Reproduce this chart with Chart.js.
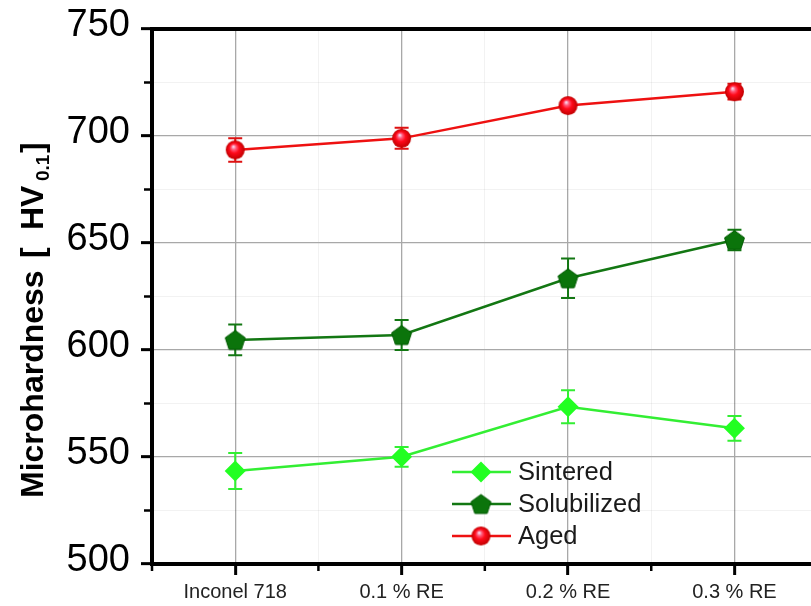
<!DOCTYPE html>
<html><head><meta charset="utf-8">
<script src="https://cdn.jsdelivr.net/npm/chart.js@4.4.1/dist/chart.umd.min.js"></script>
<style>html,body{margin:0;padding:0;background:#fff;overflow:hidden}</style>
</head><body>
<canvas id="c" width="811" height="606"></canvas>
<script>
// ---------- data ----------
const categories = ['Inconel 718', '0.1 % RE', '0.2 % RE', '0.3 % RE'];
const seriesNames = ['Sintered', 'Solubilized', 'Aged'];
const sintered = [543.5, 550.1, 573.5, 563.4];
const sinteredErr = [8.4, 4.6, 7.7, 5.8];
const solubilized = [604.7, 607.0, 633.5, 651.4];
const solubilizedErr = [7.2, 7.0, 9.2, 4.8];
const aged = [693.5, 698.9, 714.2, 720.7];
const agedErr = [5.5, 4.9, 2.0, 3.7];
const yMin = 500, yMax = 750, yMajorStep = 50, yMinorStep = 25;
const yTitleParts = ['Microhardness', '[', 'HV', '0.1', ']'];

const FONT = '"Liberation Sans", Arial, Helvetica, sans-serif';

// ---------- marker images ----------
function pentagonImg(color, r) {
  const s = Math.ceil(2 * r + 2);
  const c = document.createElement('canvas'); c.width = c.height = s;
  const g = c.getContext('2d');
  g.beginPath();
  for (let i = 0; i < 5; i++) {
    const a = -Math.PI / 2 + i * 2 * Math.PI / 5;
    const x = s / 2 + r * Math.cos(a), y = s / 2 + r * Math.sin(a) + 1;
    i ? g.lineTo(x, y) : g.moveTo(x, y);
  }
  g.closePath(); g.fillStyle = color; g.fill();
  g.strokeStyle = '#005a00'; g.lineWidth = 1; g.stroke();
  return c;
}
function sphereImg(r) {
  const s = Math.ceil(2 * r + 2);
  const c = document.createElement('canvas'); c.width = c.height = s;
  const g = c.getContext('2d');
  const cx = s / 2, cy = s / 2;
  const grd = g.createRadialGradient(cx - r * 0.2, cy - r * 0.35, r * 0.05, cx, cy, r);
  grd.addColorStop(0, '#f8d8ec');
  grd.addColorStop(0.22, '#ff5a7a');
  grd.addColorStop(0.5, '#ff0a1a');
  grd.addColorStop(1, '#c00000');
  g.beginPath(); g.arc(cx, cy, r, 0, Math.PI * 2); g.fillStyle = grd; g.fill();
  return c;
}
const pentMarker = pentagonImg('#0b740b', 10.5);
const sphMarker = sphereImg(9.5);

const colors = {
  sint: '#33ee33', sintFill: '#22ff22',
  sol: '#137713',
  aged: '#ee1111'
};

function toPts(arr) { return arr.map((v, i) => ({ x: i, y: v })); }

const datasets = [
  { label: seriesNames[0], data: toPts(sintered), errors: sinteredErr,
    borderColor: colors.sint, backgroundColor: colors.sintFill, borderWidth: 2.5,
    pointStyle: 'rectRot', pointRadius: 10.5, pointBorderWidth: 0, pointBackgroundColor: colors.sintFill,
    errColor: '#33ee33' },
  { label: seriesNames[1], data: toPts(solubilized), errors: solubilizedErr,
    borderColor: colors.sol, backgroundColor: colors.sol, borderWidth: 2.5,
    pointStyle: pentMarker, pointRadius: 10, errColor: '#137713' },
  { label: seriesNames[2], data: toPts(aged), errors: agedErr,
    borderColor: colors.aged, backgroundColor: colors.aged, borderWidth: 2.5,
    pointStyle: sphMarker, pointRadius: 10, errColor: '#dd1111' }
];

// ---------- plugins ----------
const errorBars = {
  id: 'errorBars',
  beforeDatasetsDraw(chart) {
    const { ctx, scales: { x, y } } = chart;
    chart.data.datasets.forEach(ds => {
      ctx.save();
      ctx.strokeStyle = ds.errColor; ctx.lineWidth = 2;
      ds.data.forEach((pt, i) => {
        const px = x.getPixelForValue(pt.x);
        const t = y.getPixelForValue(pt.y + ds.errors[i]);
        const b = y.getPixelForValue(pt.y - ds.errors[i]);
        ctx.beginPath();
        ctx.moveTo(px, t); ctx.lineTo(px, b);
        ctx.moveTo(px - 7, t); ctx.lineTo(px + 7, t);
        ctx.moveTo(px - 7, b); ctx.lineTo(px + 7, b);
        ctx.stroke();
      });
      ctx.restore();
    });
  }
};

const frameAndTicks = {
  id: 'frameAndTicks',
  afterDraw(chart) {
    const { ctx, chartArea: a, scales: { x, y } } = chart;
    ctx.save();
    ctx.strokeStyle = '#000'; ctx.lineWidth = 4;
    ctx.beginPath(); ctx.moveTo(a.left - 2, a.top); ctx.lineTo(a.right + 2, a.top); ctx.stroke();
    ctx.lineWidth = 2.5;
    y.ticks.forEach(t => {
      if (t.value % yMajorStep !== 0) {
        const py = y.getPixelForValue(t.value);
        ctx.beginPath(); ctx.moveTo(a.left - 8, py); ctx.lineTo(a.left, py); ctx.stroke();
      }
    });
    x.ticks.forEach(t => {
      if (!Number.isInteger(t.value)) {
        const px = x.getPixelForValue(t.value);
        ctx.beginPath(); ctx.moveTo(px, a.bottom); ctx.lineTo(px, a.bottom + 7); ctx.stroke();
      }
    });
    ctx.restore();
  }
};

// y-axis title with a real subscript: pieces start (screen y, text runs upward)
const yTitle = {
  id: 'yTitle',
  afterDraw(chart) {
    const ctx = chart.ctx;
    const main = 'bold 32px ' + FONT, sub = 'bold 19px ' + FONT;
    const starts = [498, 258, 230, 181, 153];
    ctx.save();
    ctx.translate(43, 0);
    ctx.rotate(-Math.PI / 2);
    ctx.fillStyle = '#000';
    ctx.textBaseline = 'alphabetic';
    ctx.textAlign = 'left';
    yTitleParts.forEach((txt, i) => {
      const isSub = i === 3;
      ctx.font = isSub ? sub : main;
      ctx.fillText(txt, -starts[i], isSub ? 6 : 0);
    });
    ctx.restore();
  }
};

const legendBox = {
  id: 'legendBox',
  afterDraw(chart) {
    const ctx = chart.ctx;
    const rows = [472, 504, 536];
    chart.data.datasets.forEach((ds, i) => {
      const yy = rows[i];
      ctx.save();
      ctx.strokeStyle = ds.borderColor; ctx.lineWidth = 2.5;
      ctx.beginPath(); ctx.moveTo(452, yy); ctx.lineTo(511, yy); ctx.stroke();
      ctx.fillStyle = ds.pointBackgroundColor || ds.backgroundColor;
      Chart.helpers.drawPoint(ctx, { pointStyle: ds.pointStyle, radius: ds.pointRadius, rotation: 0, borderWidth: 0 }, 481, yy);
      ctx.fillStyle = '#1a1a1a';
      ctx.font = '25.5px ' + FONT;
      ctx.textBaseline = 'middle'; ctx.textAlign = 'left';
      ctx.fillText(ds.label, 518, yy + 1);
      ctx.restore();
    });
  }
};

// ---------- chart ----------
new Chart(document.getElementById('c'), {
  type: 'line',
  data: { datasets },
  options: {
    responsive: false,
    animation: false,
    layout: { autoPadding: false, padding: { top: 29, right: 0, bottom: 0, left: 0 } },
    plugins: { legend: { display: false }, tooltip: { enabled: false } },
    elements: { line: { tension: 0 } },
    scales: {
      x: {
        type: 'linear', min: -0.5, max: 3.46,
        afterFit: s => { s.height = 42; s.paddingLeft = 0; s.paddingRight = 0; },
        border: { color: '#000', width: 4 },
        grid: {
          color: c => Number.isInteger(c.tick.value) ? '#a8a8a8' : 'rgba(0,0,0,0.05)',
          lineWidth: c => Number.isInteger(c.tick.value) ? 1.3 : 1,
          drawTicks: true, tickLength: 11,
          tickColor: c => Number.isInteger(c.tick.value) ? '#000' : 'rgba(0,0,0,0)',
          tickWidth: 3
        },
        ticks: {
          stepSize: 0.5, includeBounds: false, autoSkip: false, maxRotation: 0,
          callback: v => Number.isInteger(v) ? categories[v] : '',
          font: { size: 20, family: FONT }, color: '#222', padding: 5
        }
      },
      y: {
        type: 'linear', min: yMin, max: yMax,
        afterFit: s => { s.width = 152; s.paddingTop = 0; s.paddingBottom = 0; },
        border: { color: '#000', width: 4 },
        grid: {
          color: c => c.tick.value % yMajorStep === 0 ? '#a8a8a8' : 'rgba(0,0,0,0.05)',
          lineWidth: c => c.tick.value % yMajorStep === 0 ? 1.3 : 1,
          drawTicks: true, tickLength: 11,
          tickColor: c => c.tick.value % yMajorStep === 0 ? '#000' : 'rgba(0,0,0,0)',
          tickWidth: 3
        },
        ticks: {
          stepSize: yMinorStep, autoSkip: false,
          callback: v => v % yMajorStep === 0 ? String(v) : '',
          font: { size: 38, family: FONT }, color: '#000', padding: 11, labelOffset: -3
        }
      }
    }
  },
  plugins: [errorBars, frameAndTicks, yTitle, legendBox]
});
</script>
</body></html>
